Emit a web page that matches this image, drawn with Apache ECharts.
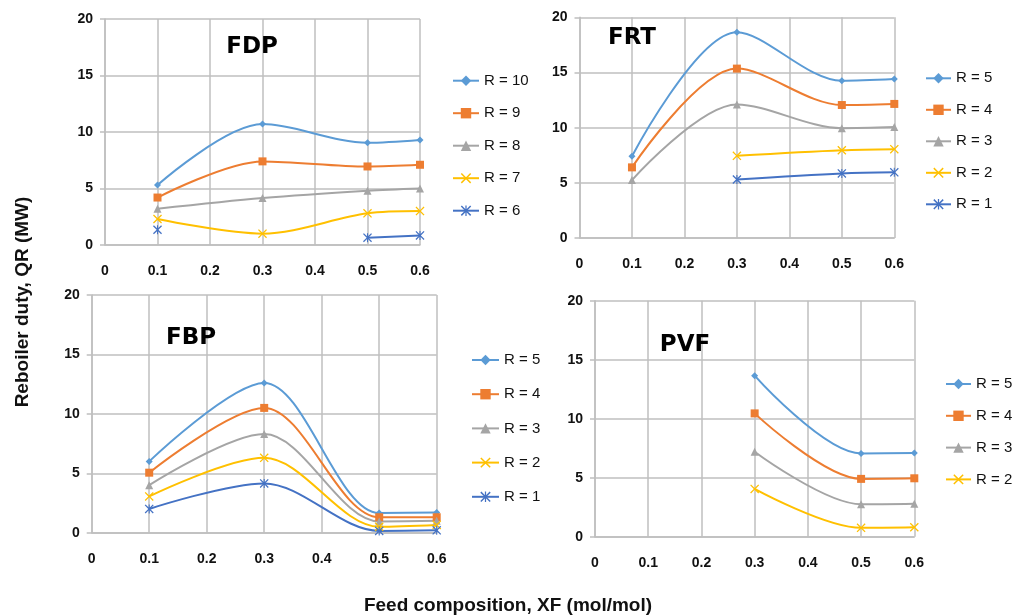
<!DOCTYPE html>
<html>
<head>
<meta charset="utf-8">
<script src="https://cdn.jsdelivr.net/npm/echarts@6/dist/echarts.min.js"></script>
<style>
  html, body { margin: 0; padding: 0; background: #fff; }
  #chart { width: 1013px; height: 615px; }
</style>
</head>
<body>
<div id="chart"></div>
<script>
// Feed composition values shared by all panels
const xValues = [0.1, 0.3, 0.5, 0.6];

// FDP panel (reboiler duty, MW)
const fdpNames = ['R = 10', 'R = 9', 'R = 8', 'R = 7', 'R = 6'];
const fdpR10 = [5.3, 10.7, 9.05, 9.3];
const fdpR9  = [4.2, 7.4, 6.95, 7.1];
const fdpR8  = [3.2, 4.15, 4.8, 5.0];
const fdpR7  = [2.3, 1.0, 2.8, 3.0];
const fdpR6  = [1.35, null, 0.65, 0.85];

// FRT panel
const frtNames = ['R = 5', 'R = 4', 'R = 3', 'R = 2', 'R = 1'];
const frtR5 = [7.4, 18.65, 14.25, 14.4];
const frtR4 = [6.4, 15.35, 12.05, 12.15];
const frtR3 = [5.25, 12.1, 9.95, 10.05];
const frtR2 = [null, 7.45, 7.95, 8.05];
const frtR1 = [null, 5.3, 5.85, 5.95];

// FBP panel
const fbpNames = ['R = 5', 'R = 4', 'R = 3', 'R = 2', 'R = 1'];
const fbpR5 = [6.0, 12.6, 1.65, 1.7];
const fbpR4 = [5.05, 10.5, 1.3, 1.3];
const fbpR3 = [4.0, 8.3, 0.95, 1.0];
const fbpR2 = [3.05, 6.3, 0.5, 0.65];
const fbpR1 = [2.0, 4.15, 0.15, 0.2];

// PVF panel
const pvfNames = ['R = 5', 'R = 4', 'R = 3', 'R = 2'];
const pvfR5 = [null, 13.65, 7.05, 7.1];
const pvfR4 = [null, 10.45, 4.9, 4.95];
const pvfR3 = [null, 7.2, 2.75, 2.8];
const pvfR2 = [null, 4.05, 0.75, 0.8];

const panelTitles = ['FDP', 'FRT', 'FBP', 'PVF'];
const yTitle = 'Reboiler duty, QR (MW)';
const xTitle = 'Feed composition, XF (mol/mol)';

// Marker styles, in series order
const CROSS = 'path://M0,1L1,0L5,4L9,0L10,1L6,5L10,9L9,10L5,6L1,10L0,9L4,5Z';
const STAR = 'path://M0,1L1,0L5,4L9,0L10,1L6,5L10,9L9,10L5,6L1,10L0,9L4,5Z M4.4,0L5.6,0L5.6,10L4.4,10Z';
const styles = [
  { color: '#5B9BD5', symbol: 'diamond', size: 7 },
  { color: '#ED7D31', symbol: 'rect', size: 8 },
  { color: '#A5A5A5', symbol: 'triangle', size: 8 },
  { color: '#FFC000', symbol: CROSS, size: 9 },
  { color: '#4472C4', symbol: STAR, size: 9 }
];

const panels = [
  { names: fdpNames, values: [fdpR10, fdpR9, fdpR8, fdpR7, fdpR6],
    grid: { left: 105, top: 19, width: 315, height: 226 },
    legend: { left: 452, top: 73.2, gap: 17.5, iw: 26 }, title: [252, 47] },
  { names: frtNames, values: [frtR5, frtR4, frtR3, frtR2, frtR1],
    grid: { left: 579.5, top: 17.3, width: 314.8, height: 220.7 },
    legend: { left: 925, top: 70.8, gap: 16.5, iw: 25 }, title: [632, 38] },
  { names: fbpNames, values: [fbpR5, fbpR4, fbpR3, fbpR2, fbpR1],
    grid: { left: 91.7, top: 295, width: 345, height: 237.7 },
    legend: { left: 471, top: 352.5, gap: 19.2, iw: 27 }, title: [191, 338] },
  { names: pvfNames, values: [pvfR5, pvfR4, pvfR3, pvfR2],
    grid: { left: 595, top: 300.7, width: 319.3, height: 236 },
    legend: { left: 945, top: 376.5, gap: 16.8, iw: 25 }, title: [685, 345] }
];

const FONT = '"Liberation Sans", Arial, sans-serif';
const gridColor = '#BFBFBF';

const option = {
  animation: false,
  backgroundColor: '#fff',
  title: [], grid: [], xAxis: [], yAxis: [], legend: [], series: [], graphic: []
};

panels.forEach((p, i) => {
  option.title.push({
    text: panelTitles[i], left: p.title[0], top: p.title[1],
    textAlign: 'center', textVerticalAlign: 'middle', padding: 0,
    textStyle: { color: '#000', fontSize: 23, fontWeight: 'bold', fontFamily: '"DejaVu Sans", sans-serif' }
  });
  option.grid.push(Object.assign({ containLabel: false }, p.grid));
  option.xAxis.push({
    type: 'value', gridIndex: i, min: 0, max: 0.6, interval: 0.1,
    axisLine: { show: true, onZero: false, lineStyle: { color: gridColor, width: 1.5 } },
    axisTick: { show: false },
    splitLine: { show: true, lineStyle: { color: gridColor, width: 1.5 } },
    axisLabel: {
      margin: 19, color: '#111', fontSize: 14, fontWeight: 'bold', fontFamily: FONT,
      formatter: v => (Math.round(v * 10) / 10).toString()
    }
  });
  option.yAxis.push({
    type: 'value', gridIndex: i, min: 0, max: 20, interval: 5,
    axisLine: { show: true, lineStyle: { color: gridColor, width: 1.5 } },
    axisTick: { show: true, length: 5, lineStyle: { color: gridColor, width: 1.5 } },
    splitLine: { show: true, lineStyle: { color: gridColor, width: 1.5 } },
    axisLabel: { margin: 12, color: '#111', fontSize: 14, fontWeight: 'bold', fontFamily: FONT }
  });
  option.legend.push({
    orient: 'vertical', left: p.legend.left, top: p.legend.top, padding: 0,
    itemWidth: p.legend.iw, itemHeight: 13, itemGap: p.legend.gap,
    data: p.names,
    textStyle: { color: '#111', fontSize: 15, fontFamily: FONT },
    selectedMode: false
  });
  p.values.forEach((vals, k) => {
    const st = styles[k];
    option.series.push({
      type: 'line', name: p.names[k], xAxisIndex: i, yAxisIndex: i,
      data: xValues.map((x, j) => [x, vals[j] === null ? '-' : vals[j]]),
      smooth: 0.32, connectNulls: false,
      symbol: st.symbol, symbolSize: st.size, showSymbol: true,
      lineStyle: { color: st.color, width: 2 },
      itemStyle: { color: st.color },
      emphasis: { disabled: true }
    });
  });
});

option.graphic.push({
  type: 'text', x: 23, y: 302, rotation: Math.PI / 2,
  style: { text: yTitle, fill: '#111', font: 'bold 19px ' + FONT, textAlign: 'center', textVerticalAlign: 'middle' }
});
option.graphic.push({
  type: 'text', x: 508, y: 606,
  style: { text: xTitle, fill: '#111', font: 'bold 19px ' + FONT, textAlign: 'center', textVerticalAlign: 'middle' }
});

const chart = echarts.init(document.getElementById('chart'), null, { renderer: 'canvas' });
chart.setOption(option);
</script>
</body>
</html>
